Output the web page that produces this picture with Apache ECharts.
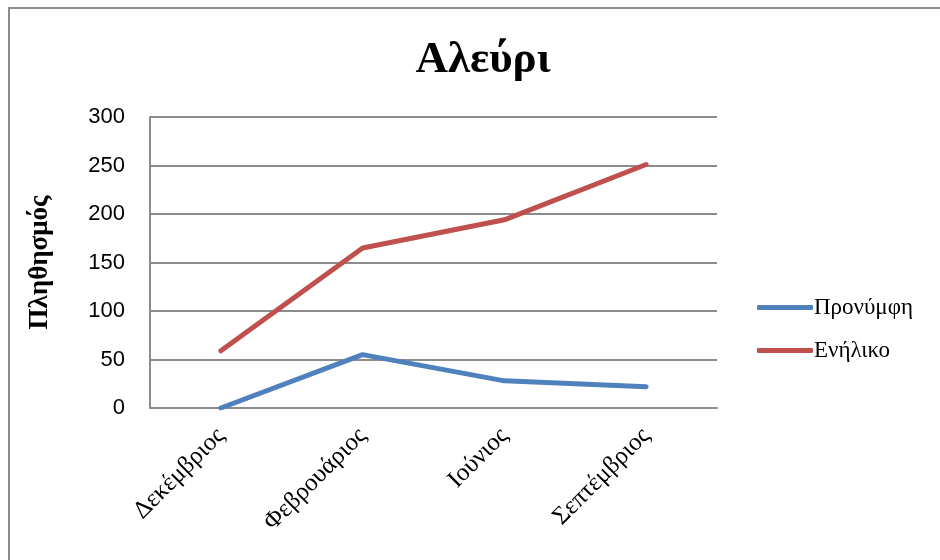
<!DOCTYPE html>
<html>
<head>
<meta charset="utf-8">
<script src="https://cdn.jsdelivr.net/npm/echarts@6/dist/echarts.min.js"></script>
<style>
  html, body { margin: 0; padding: 0; background: #fff; }
  #chart { width: 940px; height: 560px; }
</style>
</head>
<body>
<div id="chart"></div>
<script>
const months = ["Δεκέμβριος", "Φεβρουάριος", "Ιούνιος", "Σεπτέμβριος"];
const larvae = [0, 55, 28, 22];
const adults = [59, 165, 194, 251];

const chart = echarts.init(document.getElementById("chart"));

const option = {
  backgroundColor: "#fff",
  animation: false,
  title: {
    text: "Αλεύρι",
    left: 478,
    top: 33,
    textAlign: "center",
    textStyle: {
      fontFamily: "Liberation Serif",
      fontWeight: "bold",
      fontSize: 45,
      color: "#000",
    },
  },
  graphic: [
    {
      type: "rect",
      shape: { x: 9, y: 8, width: 960, height: 600 },
      style: { fill: "none", stroke: "#8c8c8c", lineWidth: 2 },
      silent: true,
    },
  ],
  legend: {
    orient: "vertical",
    left: 752,
    top: 291,
    itemWidth: 56,
    itemHeight: 5,
    itemGap: 20,
    icon: "roundRect",
    textStyle: {
      fontFamily: "Liberation Serif",
      fontSize: 23,
      color: "#000",
      padding: [0, 0, 0, -4],
    },
    data: ["Προνύμφη", "Ενήλικο"],
  },
  grid: {
    left: 150,
    right: 223,
    top: 117,
    bottom: 152,
    containLabel: false,
  },
  xAxis: {
    type: "category",
    data: months,
    boundaryGap: true,
    axisLine: { lineStyle: { color: "#8c8c8c", width: 2 } },
    axisTick: { show: false },
    axisLabel: {
      rotate: 45,
      margin: 24,
      fontFamily: "Liberation Serif",
      fontSize: 25,
      color: "#000",
      interval: 0,
    },
  },
  yAxis: {
    type: "value",
    min: 0,
    max: 300,
    interval: 50,
    name: "Πληθησμός",
    nameLocation: "middle",
    nameGap: 96,
    nameTextStyle: {
      fontFamily: "Liberation Serif",
      fontWeight: "bold",
      fontSize: 27,
      color: "#000",
    },
    axisLine: { show: true, lineStyle: { color: "#8c8c8c", width: 2 } },
    axisTick: { show: false },
    splitLine: { lineStyle: { color: "#8c8c8c", width: 2 } },
    axisLabel: {
      margin: 25,
      fontFamily: "Liberation Sans",
      fontSize: 22,
      color: "#000",
    },
  },
  series: [
    {
      name: "Προνύμφη",
      type: "line",
      data: larvae,
      showSymbol: false,
      color: "#4F81BD",
      lineStyle: { width: 5, cap: "round" },
    },
    {
      name: "Ενήλικο",
      type: "line",
      data: adults,
      showSymbol: false,
      color: "#C0504D",
      lineStyle: { width: 5, cap: "round" },
    },
  ],
};

chart.setOption(option);
</script>
</body>
</html>
